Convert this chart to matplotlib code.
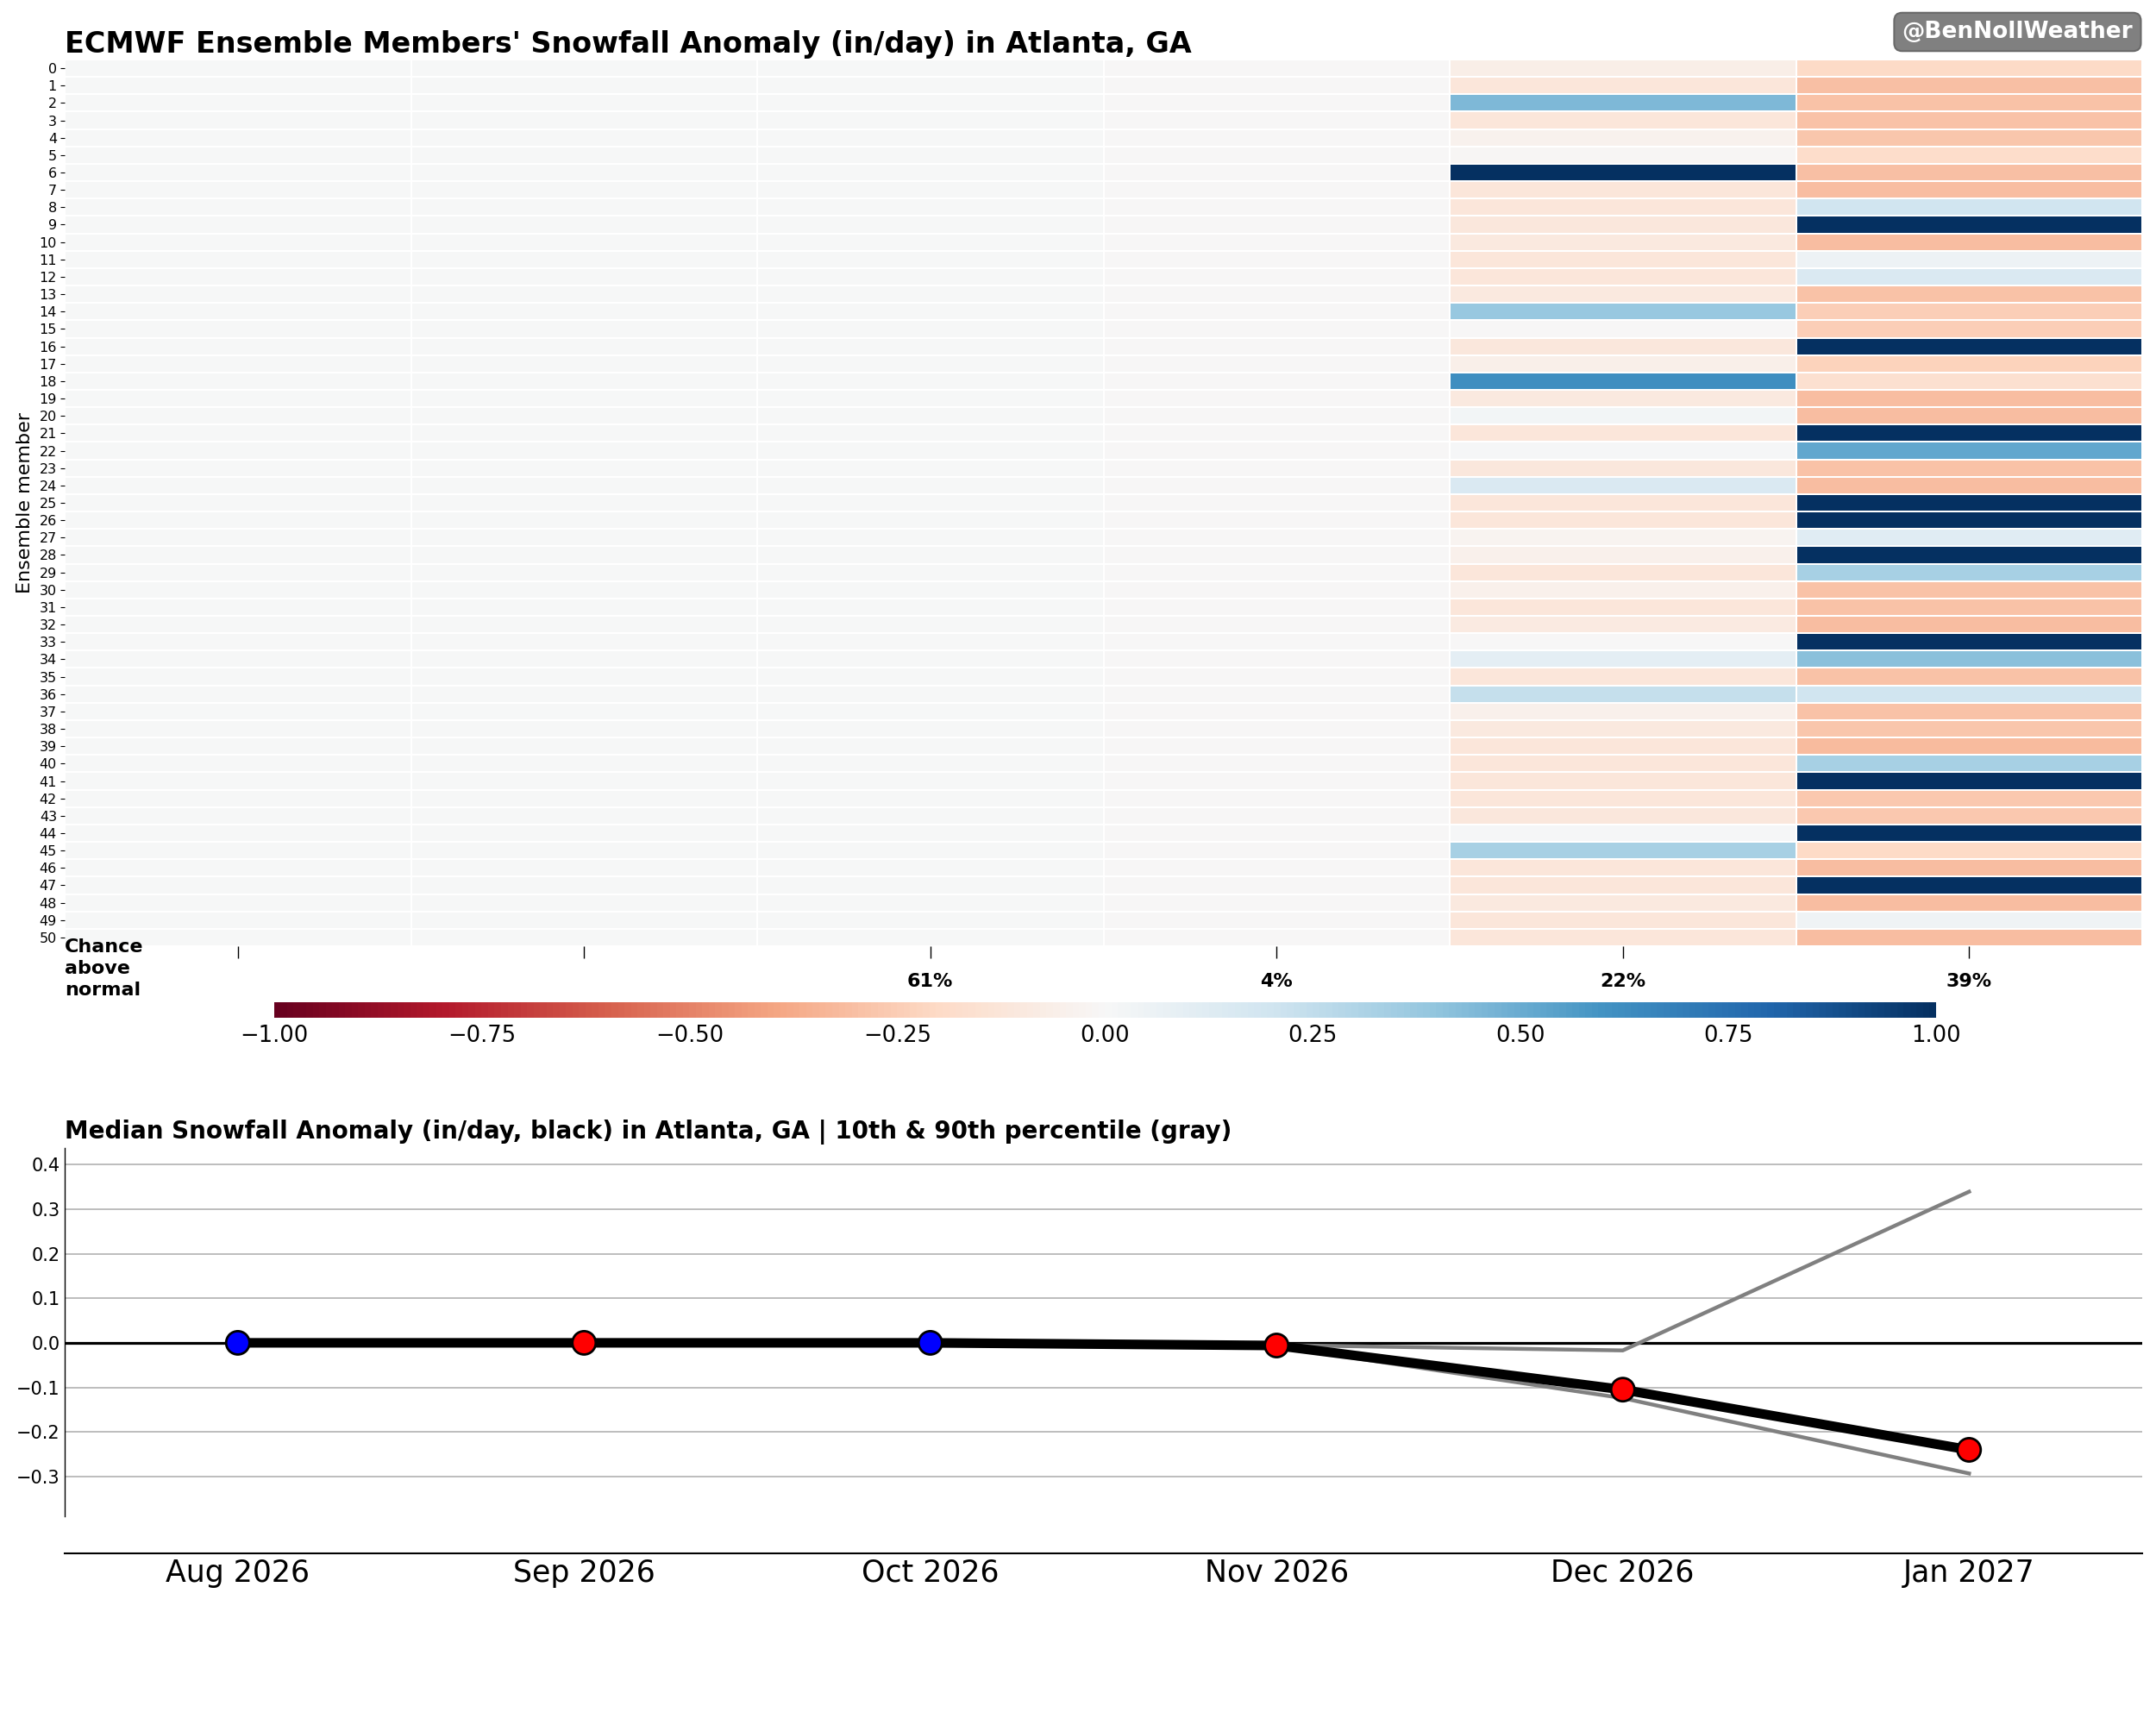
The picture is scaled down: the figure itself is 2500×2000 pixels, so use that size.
import numpy as np
import matplotlib
matplotlib.use("Agg")
import matplotlib.pyplot as plt

# ---------------- data ----------------
months = ["Aug 2026", "Sep 2026", "Oct 2026", "Nov 2026", "Dec 2026", "Jan 2027"]
chance_labels = ["", "", "61%", "4%", "22%", "39%"]
members = list(range(51))

# snowfall anomaly (in/day) per ensemble member 0..50
aug = [0.0, 0.0, 0.0, 0.0, 0.0, 0.0, 0.0, 0.0, 0.0, 0.0, 0.0, 0.0, 0.0, 0.0, 0.0, 0.0, 0.0,
       0.0, 0.0, 0.0, 0.0, 0.0, 0.0, 0.0, 0.0, 0.0, 0.0, 0.0, 0.0, 0.0, 0.0, 0.0, 0.0, 0.0,
       0.0, 0.0, 0.0, 0.0, 0.0, 0.0, 0.0, 0.0, 0.0, 0.0, 0.0, 0.0, 0.0, 0.0, 0.0, 0.0, 0.0]
sep = [0.0, 0.0, 0.0, 0.0, 0.0, 0.0, 0.0, 0.0, 0.0, 0.0, 0.0, 0.0, 0.0, 0.0, 0.0, 0.0, 0.0,
       0.0, 0.0, 0.0, 0.0, 0.0, 0.0, 0.0, 0.0, 0.0, 0.0, 0.0, 0.0, 0.0, 0.0, 0.0, 0.0, 0.0,
       0.0, 0.0, 0.0, 0.0, 0.0, 0.0, 0.0, 0.0, 0.0, 0.0, 0.0, 0.0, 0.0, 0.0, 0.0, 0.0, 0.0]
octo = [0.0, 0.0, 0.0, 0.0, 0.0, 0.0, 0.0, 0.0, 0.0, 0.0, 0.0, 0.0, 0.0, 0.0, 0.0, 0.0, 0.0,
        0.0, 0.0, 0.0, 0.0, 0.0, 0.0, 0.0, 0.0, 0.0, 0.0, 0.0, 0.0, 0.0, 0.0, 0.0, 0.0, 0.0,
        0.0, 0.0, 0.0, 0.0, 0.0, 0.0, 0.0, 0.0, 0.0, 0.0, 0.0, 0.0, 0.0, 0.0, 0.0, 0.0, 0.0]
nov = [-0.005, -0.005, -0.005, -0.005, -0.005, -0.005, -0.005, -0.005, -0.005, -0.005,
       -0.005, -0.005, -0.005, -0.005, -0.005, -0.005, -0.005, -0.005, -0.005, -0.005,
       -0.005, -0.005, -0.005, -0.005, -0.005, -0.005, -0.005, -0.005, -0.005, -0.005,
       -0.005, -0.005, -0.005, -0.005, -0.005, -0.005, -0.005, -0.005, -0.005, -0.005,
       -0.005, -0.005, -0.005, -0.005, -0.005, -0.005, -0.005, -0.005, -0.005, -0.005, -0.005]
dec = [-0.07, -0.125, 0.45, -0.125, -0.04, -0.01, 1.2, -0.125, -0.125, -0.11,
       -0.10, -0.125, -0.125, -0.10, 0.38, -0.005, -0.11, -0.06, 0.62, -0.10,
       0.03, -0.125, 0.01, -0.11, 0.15, -0.125, -0.125, -0.03, -0.05, -0.125,
       -0.05, -0.125, -0.09, -0.005, 0.10, -0.125, 0.24, -0.05, -0.10, -0.125,
       -0.125, -0.125, -0.125, -0.11, 0.01, 0.33, -0.125, -0.125, -0.10, -0.125, -0.125]
jan = [-0.20, -0.30, -0.29, -0.29, -0.28, -0.18, -0.30, -0.31, 0.20, 1.2,
       -0.31, 0.05, 0.15, -0.29, -0.25, -0.25, 1.2, -0.23, -0.16, -0.31,
       -0.31, 1.2, 0.52, -0.29, -0.31, 1.2, 1.2, 0.12, 1.2, 0.33,
       -0.29, -0.29, -0.31, 1.2, 0.42, -0.29, 0.20, -0.29, -0.28, -0.32,
       0.33, 1.2, -0.27, -0.27, 1.2, -0.20, -0.31, 1.2, -0.31, 0.04, -0.31]

# summary series for the lower panel
median = [0.0, 0.0, 0.0, -0.006, -0.105, -0.240]
p90 = [0.0, 0.0, 0.0, -0.005, -0.017, 0.339]
p10 = [0.0, 0.0, 0.0, -0.008, -0.124, -0.293]
marker_colors = ["blue", "red", "blue", "red", "red", "red"]

# ---------------- figure ----------------
fig = plt.figure(figsize=(25, 20), dpi=100)

ax1 = fig.add_axes([0.030, 0.4515, 0.9636, 0.514])
data = np.array([aug, sep, octo, nov, dec, jan]).T
xe = np.arange(len(months) + 1) - 0.5
ye = np.arange(len(members) + 1) - 0.5
mesh = ax1.pcolormesh(xe, ye, data, cmap="RdBu", vmin=-1, vmax=1,
                      edgecolors="white", linewidth=1.3)
ax1.set_xlim(-0.5, len(months) - 0.5)
ax1.set_ylim(len(members) - 0.5, -0.5)
for s in ax1.spines.values():
    s.set_visible(False)
ax1.set_yticks(range(len(members)))
ax1.set_yticklabels([str(m) for m in members], fontsize=11.5)
ax1.tick_params(axis="y", length=3.5, width=0.8, pad=3)
ax1.set_xticks(range(len(months)))
ax1.set_xticklabels(chance_labels, fontsize=16, fontweight="bold")
ax1.tick_params(axis="x", length=10, width=1, pad=12)
ax1.set_ylabel("Ensemble member", fontsize=16, labelpad=5)
ax1.set_title("ECMWF Ensemble Members' Snowfall Anomaly (in/day) in Atlanta, GA",
              loc="left", fontsize=24, fontweight="bold", pad=6)

fig.text(0.030, 1 - 1088 / 2000, "Chance\nabove\nnormal", fontsize=16,
         fontweight="bold", va="top", ha="left", linespacing=1.3)

fig.text(0.9893, 0.9815, "@BenNollWeather", fontsize=19, fontweight="bold",
         color="white", ha="right", va="center",
         bbox=dict(boxstyle="round,pad=0.35", fc="gray", ec="dimgray", lw=1.5))

cax = fig.add_axes([0.127, 0.410, 0.771, 0.0088])
cb = fig.colorbar(mesh, cax=cax, orientation="horizontal",
                  ticks=[-1, -0.75, -0.5, -0.25, 0, 0.25, 0.5, 0.75, 1])
cb.outline.set_visible(False)
cb.ax.tick_params(length=0, labelsize=18.5, pad=6)
cb.ax.set_xticklabels(["\u22121.00", "\u22120.75", "\u22120.50", "\u22120.25", "0.00",
                       "0.25", "0.50", "0.75", "1.00"])

# ---------------- lower panel ----------------
ax2 = fig.add_axes([0.030, 0.121, 0.9636, 0.2135])
ax2.spines["top"].set_visible(False)
ax2.spines["right"].set_visible(False)
ax2.spines["left"].set_linewidth(1.0)
ax2.spines["bottom"].set_linewidth(1.5)
ax2.spines["bottom"].set_position(("outward", 31))

x = np.arange(len(months))
ax2.axhline(0, color="black", lw=2.3, zorder=2)
ax2.plot(x, p90, color="gray", lw=3.2, zorder=3)
ax2.plot(x, p10, color="gray", lw=3.2, zorder=3)
ax2.plot(x, median, color="black", lw=8, zorder=4)
ax2.scatter(x, median, s=380, c=marker_colors, edgecolors="black",
            linewidths=2, zorder=5)
ax2.set_xlim(-0.5, len(months) - 0.5)
ax2.set_ylim(-0.389, 0.437)
ax2.set_yticks([-0.3, -0.2, -0.1, 0.0, 0.1, 0.2, 0.3, 0.4])
ax2.yaxis.grid(True, color="#b8b8b8", lw=1.3)
ax2.set_axisbelow(True)
ax2.set_xticks(x)
ax2.set_xticklabels(months, fontsize=25)
ax2.tick_params(axis="y", length=0, labelsize=15, pad=4)
ax2.tick_params(axis="x", length=0, pad=4, labelsize=25)
ax2.set_title("Median Snowfall Anomaly (in/day, black) in Atlanta, GA | "
              "10th & 90th percentile (gray)",
              loc="left", fontsize=20, fontweight="bold", pad=8)

fig.savefig("out.png", dpi=100)
